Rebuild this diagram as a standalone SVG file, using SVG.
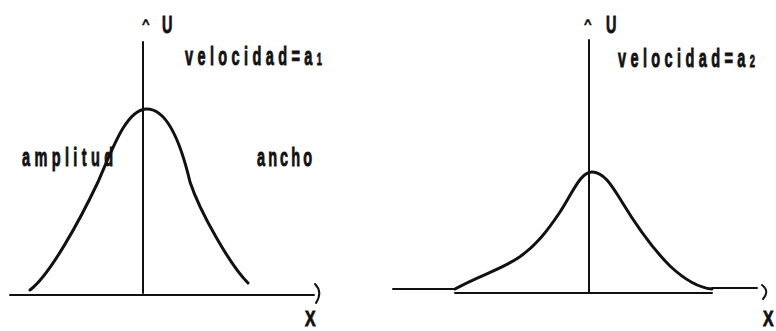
<svg xmlns="http://www.w3.org/2000/svg" width="776" height="331" viewBox="0 0 776 331">
<style>
.t{font-family:"Liberation Sans",Arial,sans-serif;font-weight:bold;font-size:25px;fill:#111;stroke:#111;stroke-width:0.9}
.c{font-size:13px;stroke-width:0.5}
.u{font-size:24px}
.x{font-size:22px}
.s{font-size:16px}
.ax{stroke:#111;stroke-width:2;fill:none;stroke-linecap:round}
.cv{stroke:#111;stroke-width:3;fill:none;stroke-linecap:round;stroke-linejoin:round}
</style>
<rect width="776" height="331" fill="#fff"/>
<g id="connectors">
<line class="ax" x1="143" y1="42" x2="143" y2="293"/>
<line class="ax" x1="10" y1="295" x2="314" y2="295"/>
<path class="ax" d="M315,284 Q323,292 316,303"/>
<line class="ax" x1="589" y1="40" x2="589" y2="293"/>
<line class="ax" x1="393" y1="289" x2="455" y2="289" stroke-width="1.6"/>
<line class="ax" x1="455" y1="293" x2="712" y2="293"/>
<line class="ax" x1="712" y1="288" x2="757" y2="288" stroke-width="1.6"/>
<path class="ax" d="M762,285 Q770,291 763,299"/>
</g>
<g id="pulse1">
<path class="cv" d="M30,290 C50,275 80,220 98,182 C112,150 126,110 146,109 C168,108 182,148 190,182 C200,212 230,265 248,283"/>
</g>
<g id="pulse2">
<path class="cv" d="M455,289 C478,276 500,270 518,258 C536,246 548,230 560,212 C572,194 580,172 592,172 C604,172 612,186 622,202 C636,225 652,248 670,266 C685,280 700,288 712,289"/>
</g>
<g id="labels1">
<text class="t c" x="142" y="28">^</text>
<text class="t u" transform="translate(162,33) scale(0.6,1)">U</text>
<text class="t" transform="translate(185,65) scale(0.58,1)" textLength="236">velocidad=a<tspan class="s">1</tspan></text>
<text class="t" transform="translate(22,166) scale(0.58,1)" textLength="157">amplitud</text>
<text class="t" transform="translate(257,166) scale(0.58,1)" textLength="95">ancho</text>
<text class="t x" transform="translate(305,326) scale(0.72,1)">X</text>
</g>
<g id="labels2">
<text class="t c" x="584" y="28">^</text>
<text class="t u" transform="translate(606,33) scale(0.6,1)">U</text>
<text class="t" transform="translate(618,67) scale(0.58,1)" textLength="236">velocidad=a<tspan class="s">2</tspan></text>
<text class="t x" transform="translate(763,326) scale(0.72,1)">X</text>
</g>
</svg>
